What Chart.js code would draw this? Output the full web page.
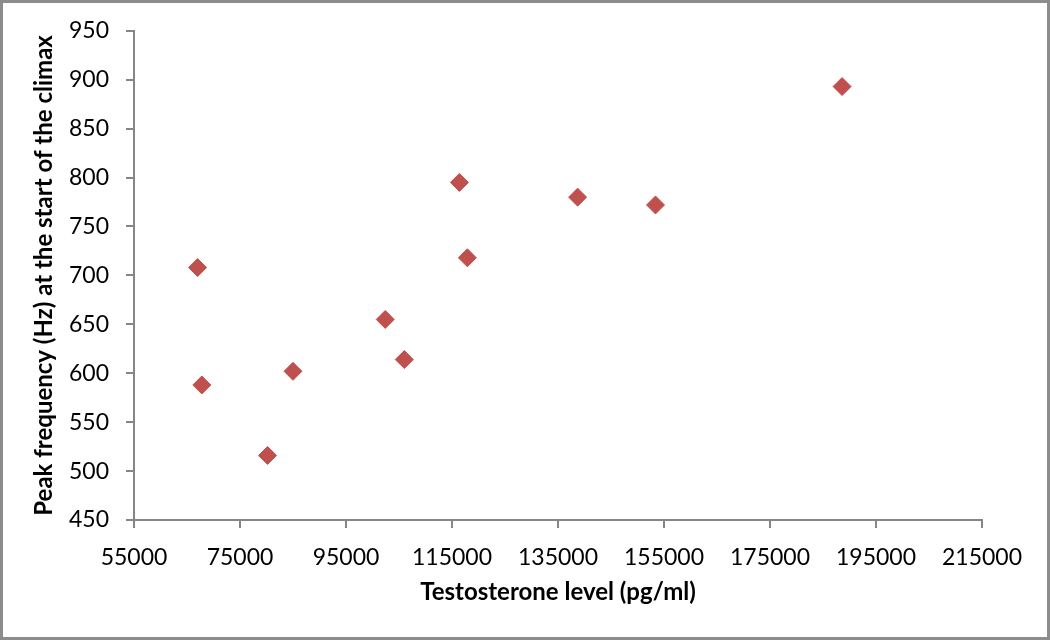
<!DOCTYPE html>
<html>
<head>
<meta charset="utf-8">
<title>Testosterone vs peak frequency</title>
<script src="https://cdn.jsdelivr.net/npm/chart.js@4"></script>
<style>
  html, body { margin: 0; padding: 0; background: #fff; }
  canvas { display: block; }
</style>
</head>
<body>
<canvas id="scatterChart" width="1050" height="640"></canvas>
<script>
// testosterone (pg/ml) and peak frequency (Hz)
const testosterone = [67000, 67800, 80200, 85000, 102400, 106000, 116400, 117900, 138700, 153400, 188600];
const peakFreq = [708, 588, 516, 602, 655, 614, 795, 718, 780, 772, 893];

const xMin = 55000, xMax = 215000, xStep = 20000;
const yMin = 450, yMax = 950, yStep = 50;

const axisGrey = "#868686";
const markerRed = "#C0504D";

const points = testosterone.map((t, i) => ({ x: t, y: peakFreq[i] }));

// grey frame round the whole picture
const frame = {
    id: "frame",
    afterDraw(chart) {
        const c = chart.ctx;
        c.save();
        c.strokeStyle = "#8c8c8c";
        c.lineWidth = 3;
        c.strokeRect(1.5, 1.5, chart.width - 3, chart.height - 3);
        c.restore();
    },
};

new Chart(document.getElementById("scatterChart"), {
    type: "scatter",
    data: {
        datasets: [
            {
                data: points,
                pointStyle: "rectRot",
                pointRadius: 9,
                pointHoverRadius: 9,
                backgroundColor: markerRed,
                borderColor: markerRed,
                borderWidth: 1,
            },
        ],
    },
    options: {
        responsive: false,
        animation: false,
        layout: {
            padding: { left: 20, right: 68, top: 28, bottom: 20 },
        },
        scales: {
            x: {
                type: "linear",
                min: xMin,
                max: xMax,
                afterFit(scale) {
                    scale.height = 100;
                },
                ticks: {
                    stepSize: xStep,
                    padding: 16,
                    color: "#000",
                    font: { family: "Lato", size: 23 },
                    callback: (v) => String(v),
                },
                grid: {
                    drawOnChartArea: false,
                    drawTicks: true,
                    tickLength: 8,
                    color: axisGrey,
                    lineWidth: 2,
                },
                border: { display: true, color: axisGrey, width: 2 },
                title: {
                    display: true,
                    text: "Testosterone level (pg/ml)",
                    color: "#000",
                    font: { family: "Lato", size: 24, weight: "bold" },
                    padding: { top: 0, bottom: 13 },
                },
            },
            y: {
                type: "linear",
                min: yMin,
                max: yMax,
                afterFit(scale) {
                    scale.width = 114;
                },
                ticks: {
                    stepSize: yStep,
                    padding: 17,
                    color: "#000",
                    font: { family: "Lato", size: 23 },
                },
                grid: {
                    drawOnChartArea: false,
                    drawTicks: true,
                    tickLength: 8,
                    color: axisGrey,
                    lineWidth: 2,
                },
                border: { display: true, color: axisGrey, width: 2 },
                title: {
                    display: true,
                    text: "Peak frequency (Hz) at the start of the climax",
                    color: "#000",
                    font: { family: "Lato", size: 24, weight: "bold" },
                    padding: { top: 10, bottom: 0 },
                },
            },
        },
        plugins: {
            legend: { display: false },
            tooltip: { enabled: false },
        },
    },
    plugins: [frame],
});
</script>
</body>
</html>
